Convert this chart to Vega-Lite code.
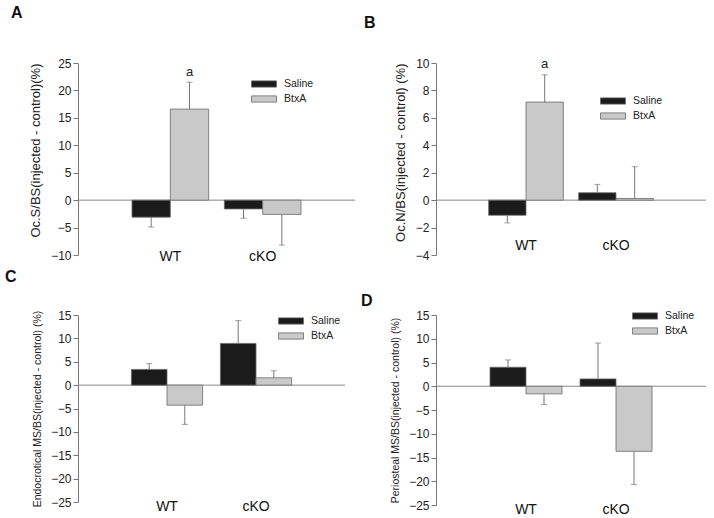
{
  "$schema": "https://vega.github.io/schema/vega-lite/v6.json",
  "background": "white",
  "padding": {"left": 5, "top": 5, "right": 5, "bottom": 5},
  "columns": 2,
  "spacing": {"column": 5, "row": 6},
  "data": {
    "values": [
      {"panel": "A", "genotype": "WT", "treatment": "Saline", "value": -3.1, "err": -4.9, "sig": ""},
      {"panel": "A", "genotype": "WT", "treatment": "BtxA", "value": 16.6, "err": 21.5, "sig": "a"},
      {"panel": "A", "genotype": "cKO", "treatment": "Saline", "value": -1.6, "err": -3.3, "sig": ""},
      {"panel": "A", "genotype": "cKO", "treatment": "BtxA", "value": -2.6, "err": -8.2, "sig": ""},
      {"panel": "B", "genotype": "WT", "treatment": "Saline", "value": -1.1, "err": -1.66, "sig": ""},
      {"panel": "B", "genotype": "WT", "treatment": "BtxA", "value": 7.15, "err": 9.14, "sig": "a"},
      {"panel": "B", "genotype": "cKO", "treatment": "Saline", "value": 0.54, "err": 1.15, "sig": ""},
      {"panel": "B", "genotype": "cKO", "treatment": "BtxA", "value": 0.12, "err": 2.44, "sig": ""},
      {"panel": "C", "genotype": "WT", "treatment": "Saline", "value": 3.36, "err": 4.6, "sig": ""},
      {"panel": "C", "genotype": "WT", "treatment": "BtxA", "value": -4.28, "err": -8.4, "sig": ""},
      {"panel": "C", "genotype": "cKO", "treatment": "Saline", "value": 8.93, "err": 13.8, "sig": ""},
      {"panel": "C", "genotype": "cKO", "treatment": "BtxA", "value": 1.57, "err": 3.07, "sig": ""},
      {"panel": "D", "genotype": "WT", "treatment": "Saline", "value": 4.0, "err": 5.54, "sig": ""},
      {"panel": "D", "genotype": "WT", "treatment": "BtxA", "value": -1.6, "err": -3.85, "sig": ""},
      {"panel": "D", "genotype": "cKO", "treatment": "Saline", "value": 1.54, "err": 9.1, "sig": ""},
      {"panel": "D", "genotype": "cKO", "treatment": "BtxA", "value": -13.7, "err": -20.7, "sig": ""}
    ]
  },
  "resolve": {
    "scale": {"y": "independent", "x": "independent", "xOffset": "independent", "color": "independent"},
    "legend": {"color": "independent"},
    "axis": {"x": "independent", "y": "independent"}
  },
  "concat": [
    {
      "width": 277, "height": 192,
      "title": {"text": "A", "dx": -67, "offset": 36},
      "transform": [{"filter": "datum.panel === 'A'"}],
      "layer": [
        {
          "transform": [{"filter": "datum.genotype === 'WT' && datum.treatment === 'Saline'"}],
          "mark": {"type": "rule", "color": "#888", "strokeWidth": 1},
          "encoding": {"y": {"datum": 0, "type": "quantitative", "scale": {"domain": [-10, 25], "nice": false, "zero": false},
                             "axis": {"title": "Oc.S/BS(injected - control)(%)", "titleFontSize": 13, "tickCount": 8, "values": [-10, -5, 0, 5, 10, 15, 20, 25]}}}
        },
        {
          "mark": {"type": "bar", "stroke": "#6a6a6a", "strokeWidth": 0.8},
          "encoding": {
            "x": {"field": "genotype", "type": "nominal", "sort": ["WT", "cKO"], "scale": {"paddingInner": 0.17, "paddingOuter": 0.585},
                  "axis": {"title": null, "domain": false, "ticks": false, "labelAngle": 0, "labelFontSize": 14, "labelPadding": -6, "labelColor": "#111"}},
            "xOffset": {"field": "treatment", "sort": ["Saline", "BtxA"], "scale": {"paddingInner": 0, "paddingOuter": 0}},
            "y": {"field": "value", "type": "quantitative", "scale": {"domain": [-10, 25], "nice": false, "zero": false},
                  "axis": {"title": "Oc.S/BS(injected - control)(%)", "titleFontSize": 13, "tickCount": 8, "values": [-10, -5, 0, 5, 10, 15, 20, 25]}},
            "color": {"field": "treatment", "type": "nominal", "sort": ["Saline", "BtxA"],
                      "scale": {"domain": ["Saline", "BtxA"], "range": ["#1b1b1b", "#c9c9c9"]},
                      "legend": {"orient": "none", "legendX": 179, "legendY": 14, "title": null}}
          }
        },
        {
          "mark": {"type": "rule", "color": "#777", "strokeWidth": 1},
          "encoding": {
            "x": {"field": "genotype", "type": "nominal", "sort": ["WT", "cKO"]},
            "xOffset": {"field": "treatment", "sort": ["Saline", "BtxA"]},
            "y": {"field": "value", "type": "quantitative"},
            "y2": {"field": "err"}
          }
        },
        {
          "mark": {"type": "tick", "color": "#777", "size": 6, "thickness": 1, "orient": "horizontal"},
          "encoding": {
            "x": {"field": "genotype", "type": "nominal", "sort": ["WT", "cKO"]},
            "xOffset": {"field": "treatment", "sort": ["Saline", "BtxA"]},
            "y": {"field": "err", "type": "quantitative"}
          }
        },
        {
          "mark": {"type": "text", "baseline": "bottom", "dy": -3, "fontSize": 13, "color": "#222"},
          "encoding": {
            "x": {"field": "genotype", "type": "nominal", "sort": ["WT", "cKO"]},
            "xOffset": {"field": "treatment", "sort": ["Saline", "BtxA"]},
            "y": {"field": "err", "type": "quantitative"},
            "text": {"field": "sig"}
          }
        }
      ]
    },
    {
      "width": 270, "height": 192,
      "title": {"text": "B", "dx": -72, "offset": 26},
      "transform": [{"filter": "datum.panel === 'B'"}],
      "layer": [
        {
          "transform": [{"filter": "datum.genotype === 'WT' && datum.treatment === 'Saline'"}],
          "mark": {"type": "rule", "color": "#888", "strokeWidth": 1},
          "encoding": {"y": {"datum": 0, "type": "quantitative", "scale": {"domain": [-4, 10], "nice": false, "zero": false},
                             "axis": {"title": "Oc.N/BS(injected - control) (%)", "titleFontSize": 13, "tickCount": 8, "values": [-4, -2, 0, 2, 4, 6, 8, 10]}}}
        },
        {
          "mark": {"type": "bar", "stroke": "#6a6a6a", "strokeWidth": 0.8},
          "encoding": {
            "x": {"field": "genotype", "type": "nominal", "sort": ["WT", "cKO"], "scale": {"paddingInner": 0.17, "paddingOuter": 0.585},
                  "axis": {"title": null, "domain": false, "ticks": false, "labelAngle": 0, "labelFontSize": 14, "labelPadding": -17, "labelColor": "#111"}},
            "xOffset": {"field": "treatment", "sort": ["Saline", "BtxA"], "scale": {"paddingInner": 0, "paddingOuter": 0}},
            "y": {"field": "value", "type": "quantitative", "scale": {"domain": [-4, 10], "nice": false, "zero": false},
                  "axis": {"title": "Oc.N/BS(injected - control) (%)", "titleFontSize": 13, "tickCount": 8, "values": [-4, -2, 0, 2, 4, 6, 8, 10]}},
            "color": {"field": "treatment", "type": "nominal", "sort": ["Saline", "BtxA"],
                      "scale": {"domain": ["Saline", "BtxA"], "range": ["#1b1b1b", "#c9c9c9"]},
                      "legend": {"orient": "none", "legendX": 170, "legendY": 31, "title": null}}
          }
        },
        {
          "mark": {"type": "rule", "color": "#777", "strokeWidth": 1},
          "encoding": {
            "x": {"field": "genotype", "type": "nominal", "sort": ["WT", "cKO"]},
            "xOffset": {"field": "treatment", "sort": ["Saline", "BtxA"]},
            "y": {"field": "value", "type": "quantitative"},
            "y2": {"field": "err"}
          }
        },
        {
          "mark": {"type": "tick", "color": "#777", "size": 6, "thickness": 1, "orient": "horizontal"},
          "encoding": {
            "x": {"field": "genotype", "type": "nominal", "sort": ["WT", "cKO"]},
            "xOffset": {"field": "treatment", "sort": ["Saline", "BtxA"]},
            "y": {"field": "err", "type": "quantitative"}
          }
        },
        {
          "mark": {"type": "text", "baseline": "bottom", "dy": -4, "fontSize": 13, "color": "#222"},
          "encoding": {
            "x": {"field": "genotype", "type": "nominal", "sort": ["WT", "cKO"]},
            "xOffset": {"field": "treatment", "sort": ["Saline", "BtxA"]},
            "y": {"field": "err", "type": "quantitative"},
            "text": {"field": "sig"}
          }
        }
      ]
    },
    {
      "width": 267, "height": 187,
      "title": {"text": "C", "dx": -73, "offset": 24},
      "transform": [{"filter": "datum.panel === 'C'"}],
      "layer": [
        {
          "transform": [{"filter": "datum.genotype === 'WT' && datum.treatment === 'Saline'"}],
          "mark": {"type": "rule", "color": "#888", "strokeWidth": 1},
          "encoding": {"y": {"datum": 0, "type": "quantitative", "scale": {"domain": [-25, 15], "nice": false, "zero": false},
                             "axis": {"title": "Endocrotical MS/BS(injected - control) (%)", "titleFontSize": 10.5, "titleAnchor": "middle", "tickCount": 9, "values": [-25, -20, -15, -10, -5, 0, 5, 10, 15]}}}
        },
        {
          "mark": {"type": "bar", "stroke": "#6a6a6a", "strokeWidth": 0.8},
          "encoding": {
            "x": {"field": "genotype", "type": "nominal", "sort": ["WT", "cKO"], "scale": {"paddingInner": 0.2, "paddingOuter": 0.6},
                  "axis": {"title": null, "domain": false, "ticks": false, "labelAngle": 0, "labelFontSize": 14, "labelPadding": -3, "labelColor": "#111"}},
            "xOffset": {"field": "treatment", "sort": ["Saline", "BtxA"], "scale": {"paddingInner": 0, "paddingOuter": 0}},
            "y": {"field": "value", "type": "quantitative", "scale": {"domain": [-25, 15], "nice": false, "zero": false},
                  "axis": {"title": "Endocrotical MS/BS(injected - control) (%)", "titleFontSize": 10.5, "titleAnchor": "middle", "tickCount": 9, "values": [-25, -20, -15, -10, -5, 0, 5, 10, 15]}},
            "color": {"field": "treatment", "type": "nominal", "sort": ["Saline", "BtxA"],
                      "scale": {"domain": ["Saline", "BtxA"], "range": ["#1b1b1b", "#c9c9c9"]},
                      "legend": {"orient": "none", "legendX": 206, "legendY": -1, "title": null}}
          }
        },
        {
          "mark": {"type": "rule", "color": "#777", "strokeWidth": 1},
          "encoding": {
            "x": {"field": "genotype", "type": "nominal", "sort": ["WT", "cKO"]},
            "xOffset": {"field": "treatment", "sort": ["Saline", "BtxA"]},
            "y": {"field": "value", "type": "quantitative"},
            "y2": {"field": "err"}
          }
        },
        {
          "mark": {"type": "tick", "color": "#777", "size": 6, "thickness": 1, "orient": "horizontal"},
          "encoding": {
            "x": {"field": "genotype", "type": "nominal", "sort": ["WT", "cKO"]},
            "xOffset": {"field": "treatment", "sort": ["Saline", "BtxA"]},
            "y": {"field": "err", "type": "quantitative"}
          }
        }
      ]
    },
    {
      "width": 270, "height": 190,
      "title": {"text": "D", "dx": -75, "offset": 0},
      "transform": [{"filter": "datum.panel === 'D'"}],
      "layer": [
        {
          "transform": [{"filter": "datum.genotype === 'WT' && datum.treatment === 'Saline'"}],
          "mark": {"type": "rule", "color": "#888", "strokeWidth": 1},
          "encoding": {"y": {"datum": 0, "type": "quantitative", "scale": {"domain": [-25, 15], "nice": false, "zero": false},
                             "axis": {"title": "Periosteal MS/BS(injected - control) (%)", "titleFontSize": 10.5, "titleAnchor": "middle", "tickCount": 9, "values": [-25, -20, -15, -10, -5, 0, 5, 10, 15]}}}
        },
        {
          "mark": {"type": "bar", "stroke": "#6a6a6a", "strokeWidth": 0.8},
          "encoding": {
            "x": {"field": "genotype", "type": "nominal", "sort": ["WT", "cKO"], "scale": {"paddingInner": 0.2, "paddingOuter": 0.6},
                  "axis": {"title": null, "domain": false, "ticks": false, "labelAngle": 0, "labelFontSize": 14, "labelPadding": -3, "labelColor": "#111"}},
            "xOffset": {"field": "treatment", "sort": ["Saline", "BtxA"], "scale": {"paddingInner": 0, "paddingOuter": 0}},
            "y": {"field": "value", "type": "quantitative", "scale": {"domain": [-25, 15], "nice": false, "zero": false},
                  "axis": {"title": "Periosteal MS/BS(injected - control) (%)", "titleFontSize": 10.5, "titleAnchor": "middle", "tickCount": 9, "values": [-25, -20, -15, -10, -5, 0, 5, 10, 15]}},
            "color": {"field": "treatment", "type": "nominal", "sort": ["Saline", "BtxA"],
                      "scale": {"domain": ["Saline", "BtxA"], "range": ["#1b1b1b", "#c9c9c9"]},
                      "legend": {"orient": "none", "legendX": 202, "legendY": -6, "title": null}}
          }
        },
        {
          "mark": {"type": "rule", "color": "#777", "strokeWidth": 1},
          "encoding": {
            "x": {"field": "genotype", "type": "nominal", "sort": ["WT", "cKO"]},
            "xOffset": {"field": "treatment", "sort": ["Saline", "BtxA"]},
            "y": {"field": "value", "type": "quantitative"},
            "y2": {"field": "err"}
          }
        },
        {
          "mark": {"type": "tick", "color": "#777", "size": 6, "thickness": 1, "orient": "horizontal"},
          "encoding": {
            "x": {"field": "genotype", "type": "nominal", "sort": ["WT", "cKO"]},
            "xOffset": {"field": "treatment", "sort": ["Saline", "BtxA"]},
            "y": {"field": "err", "type": "quantitative"}
          }
        }
      ]
    }
  ],
  "config": {
    "font": "Liberation Sans, Arial, sans-serif",
    "view": {"stroke": null},
    "axis": {"grid": false, "domainColor": "#777", "tickColor": "#777", "tickSize": 5, "labelColor": "#222", "labelFontSize": 12, "labelPadding": 2, "labelOverlap": false, "titleColor": "#222", "titleFontWeight": "normal", "titlePadding": 8, "titleAnchor": "end"},
    "title": {"anchor": "start", "frame": "group", "fontSize": 16, "fontWeight": "bold", "color": "#111"},
    "legend": {"symbolType": "M-2,-0.5H2V0.5H-2Z", "symbolSize": 156, "symbolStrokeColor": "#6a6a6a", "symbolStrokeWidth": 0.8, "labelFontSize": 10.5, "labelColor": "#222", "rowPadding": 2, "padding": 0, "labelOffset": 13}
  }
}
